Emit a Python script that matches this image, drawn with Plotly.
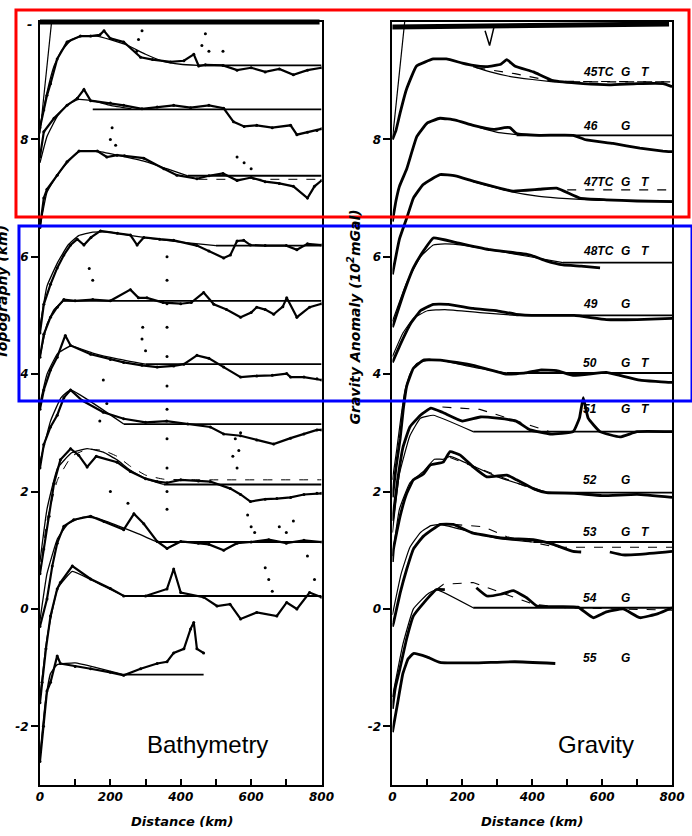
import plotly.graph_objects as go

W, H = 692, 836          # design frame (reference pixels)
FIG_W = 708              # page width so that the captured picture maps back onto 692 px

# ---------------- Bathymetry profiles (left panel) ----------------
b45_obs_x = [0, 11, 20, 30, 49, 77, 115, 144, 170, 182, 200, 238, 286, 320, 371, 409, 437, 451, 470, 520, 560, 600, 640, 680, 720, 760, 800]
b45_obs_y = [8.2, 8.5, 8.75, 8.95, 9.37, 9.66, 9.76, 9.76, 9.78, 9.85, 9.72, 9.66, 9.4, 9.36, 9.32, 9.34, 9.45, 9.25, 9.27, 9.26, 9.18, 9.22, 9.15, 9.2, 9.1, 9.18, 9.22]
b45_mod_x = [0, 20, 40, 60, 90, 120, 160, 200, 250, 300, 350, 400, 450]
b45_mod_y = [8.2, 8.8, 9.25, 9.5, 9.7, 9.76, 9.76, 9.7, 9.6, 9.45, 9.33, 9.28, 9.26]
b45_steep_x = [0, 33]
b45_steep_y = [8.1, 10.0]

b46_obs_x = [0, 11, 40, 77, 106, 125, 144, 200, 238, 290, 333, 380, 428, 480, 522, 550, 580, 616, 660, 712, 730, 760, 787, 800]
b46_obs_y = [7.7, 8.13, 8.36, 8.58, 8.7, 8.85, 8.66, 8.62, 8.58, 8.52, 8.55, 8.58, 8.54, 8.58, 8.53, 8.3, 8.22, 8.24, 8.2, 8.24, 8.08, 8.12, 8.15, 8.18]
b46_mod_x = [0, 20, 50, 80, 110, 150, 200, 260]
b46_mod_y = [7.6, 8.05, 8.4, 8.6, 8.68, 8.66, 8.58, 8.52]

b47_obs_x = [0, 11, 20, 49, 77, 111, 163, 190, 219, 240, 295, 352, 389, 446, 480, 520, 560, 600, 640, 680, 720, 760, 780, 800]
b47_obs_y = [6.5, 7.0, 7.15, 7.39, 7.62, 7.8, 7.8, 7.7, 7.73, 7.72, 7.68, 7.5, 7.39, 7.33, 7.38, 7.42, 7.3, 7.35, 7.28, 7.25, 7.2, 7.0, 7.2, 7.3]
b47_mod_x = [0, 20, 50, 80, 111, 163, 220, 300, 360, 420]
b47_mod_y = [6.5, 7.1, 7.4, 7.62, 7.8, 7.8, 7.73, 7.62, 7.5, 7.38]
b47_dash_x = [450, 800]
b47_dash_y = [7.32, 7.32]

b48_obs_x = [0, 11, 30, 49, 68, 87, 106, 125, 145, 172, 220, 257, 276, 295, 340, 380, 446, 480, 522, 541, 560, 579, 598, 640, 700, 730, 760, 800]
b48_obs_y = [4.7, 5.19, 5.53, 5.81, 6.03, 6.2, 6.3, 6.2, 6.33, 6.44, 6.4, 6.37, 6.2, 6.33, 6.3, 6.28, 6.19, 6.1, 5.98, 6.03, 6.27, 6.28, 6.2, 6.19, 6.19, 6.12, 6.22, 6.2]
b48_mod_x = [0, 20, 50, 80, 110, 150, 200, 260, 330, 400, 500]
b48_mod_y = [4.8, 5.5, 5.9, 6.2, 6.36, 6.42, 6.42, 6.36, 6.3, 6.25, 6.19]

b49_obs_x = [0, 11, 30, 49, 68, 100, 150, 200, 257, 280, 304, 350, 400, 430, 465, 494, 530, 570, 600, 616, 640, 664, 690, 701, 730, 766, 800]
b49_obs_y = [4.29, 4.68, 4.97, 5.14, 5.27, 5.25, 5.27, 5.25, 5.44, 5.3, 5.3, 5.22, 5.2, 5.22, 5.39, 5.19, 5.1, 4.97, 5.05, 5.14, 5.1, 5.02, 5.15, 5.3, 4.97, 5.14, 5.2]
b49_mod_x = [0, 20, 40, 68, 100]
b49_mod_y = [4.3, 4.85, 5.1, 5.25, 5.25]

b50_obs_x = [0, 11, 30, 49, 72, 87, 144, 200, 238, 290, 333, 380, 409, 446, 480, 522, 570, 616, 660, 701, 712, 750, 787, 800]
b50_obs_y = [3.4, 3.73, 4.07, 4.29, 4.66, 4.49, 4.34, 4.25, 4.2, 4.15, 4.12, 4.14, 4.17, 4.32, 4.27, 4.12, 3.95, 3.97, 3.98, 4.01, 3.95, 3.95, 3.92, 3.9]
b50_mod_x = [0, 20, 50, 87, 150, 220, 300]
b50_mod_y = [3.5, 4.0, 4.35, 4.48, 4.36, 4.26, 4.17]

b51_obs_x = [0, 11, 30, 49, 68, 87, 120, 180, 238, 300, 360, 420, 484, 522, 570, 616, 664, 712, 750, 787, 800]
b51_obs_y = [2.4, 2.8, 3.1, 3.3, 3.6, 3.73, 3.55, 3.35, 3.24, 3.18, 3.2, 3.15, 3.1, 2.98, 2.95, 2.88, 2.81, 2.91, 2.98, 3.05, 3.05]
b51_mod_x = [0, 30, 60, 87, 238]
b51_mod_y = [2.5, 3.2, 3.6, 3.73, 3.15]

b52_obs_x = [0, 11, 26, 40, 58, 87, 110, 134, 160, 219, 257, 300, 333, 361, 400, 450, 484, 541, 570, 598, 640, 673, 712, 750, 787, 800]
b52_obs_y = [0.6, 1.02, 1.58, 2.14, 2.54, 2.73, 2.62, 2.42, 2.6, 2.5, 2.34, 2.22, 2.17, 2.15, 2.2, 2.18, 2.17, 2.05, 1.95, 1.83, 1.87, 1.88, 1.9, 1.95, 1.97, 1.97]
b52_mod_x = [0, 20, 50, 90, 134, 180, 219, 257, 300, 352]
b52_mod_y = [0.8, 1.7, 2.4, 2.66, 2.73, 2.67, 2.54, 2.36, 2.22, 2.12]
b52_dash_x = [0, 20, 50, 90, 134, 180, 219, 257, 300, 352, 450, 800]
b52_dash_y = [0.6, 1.5, 2.2, 2.6, 2.72, 2.7, 2.6, 2.43, 2.28, 2.21, 2.2, 2.2]

b53_obs_x = [0, 20, 35, 49, 68, 96, 144, 182, 238, 267, 295, 333, 361, 400, 450, 480, 522, 560, 600, 650, 700, 750, 800]
b53_obs_y = [-0.3, 0.17, 0.73, 1.12, 1.41, 1.52, 1.58, 1.49, 1.35, 1.62, 1.45, 1.15, 1.03, 1.15, 1.12, 1.1, 1.0, 1.12, 1.14, 1.18, 1.12, 1.17, 1.14]
b53_mod_x = [0, 20, 50, 80, 120, 160, 220, 280, 333]
b53_mod_y = [-0.2, 0.6, 1.2, 1.45, 1.56, 1.55, 1.42, 1.28, 1.14]

b54_obs_x = [0, 6, 17, 30, 49, 58, 92, 144, 200, 238, 300, 361, 380, 400, 465, 503, 540, 570, 616, 673, 701, 730, 766, 800]
b54_obs_y = [-1.6, -1.25, -0.68, -0.12, 0.34, 0.45, 0.73, 0.51, 0.35, 0.22, 0.22, 0.34, 0.68, 0.28, 0.2, 0.05, 0.08, -0.17, -0.06, -0.12, 0.11, 0.0, 0.28, 0.2]
b54_mod_x = [0, 20, 50, 92, 144, 238]
b54_mod_y = [-1.5, -0.5, 0.35, 0.64, 0.5, 0.22]

b55_obs_x = [0, 10, 20, 30, 49, 58, 100, 144, 200, 238, 286, 333, 361, 380, 409, 428, 437, 446, 465]
b55_obs_y = [-2.6, -2.0, -1.4, -1.25, -0.8, -0.93, -0.98, -1.02, -1.08, -1.13, -1.02, -0.93, -0.9, -0.75, -0.68, -0.34, -0.23, -0.68, -0.75]
b55_mod_x = [0, 15, 30, 49, 100, 160, 238]
b55_mod_y = [-2.5, -1.6, -1.1, -0.95, -0.92, -1.0, -1.12]

bathy_base_y = [9.26, 8.51, 7.38, 6.19, 5.25, 4.17, 3.15, 2.12, 1.14, 0.22, -1.12]
bathy_base_x0 = [450, 150, 420, 500, 68, 300, 238, 352, 333, 238, 238]
bathy_base_x1 = [800, 800, 800, 800, 800, 800, 800, 800, 800, 800, 465]

# scattered outlier soundings
bathy_dot_x = [361, 361, 361, 361, 361, 361, 361, 361, 361, 361, 361, 560, 565, 570, 590, 600, 610, 640, 650, 660,
               200, 205, 215, 275, 280, 290, 460, 470, 480, 520, 560, 580, 600, 150, 140, 290, 300, 292, 180, 190,
               170, 250, 200, 680, 700, 720, 760, 780, 548, 555]
bathy_dot_y = [1.7, 2.0, 2.4, 2.9, 3.4, 3.8, 4.3, 4.8, 5.2, 5.6, 6.0, 2.4, 2.7, 3.0, 1.6, 1.4, 1.3, 0.7, 0.5, 0.3,
               8.0, 8.2, 7.9, 9.5, 9.7, 9.85, 9.6, 9.8, 9.5, 9.5, 7.7, 7.6, 7.5, 5.6, 5.8, 4.6, 4.4, 4.8, 3.9, 3.5,
               3.2, 1.8, 2.0, 1.4, 1.3, 1.5, 0.9, 0.5, 2.6, 2.9]

# ---------------- Gravity profiles (right panel) ----------------
g45_obs_x = [0, 10, 22, 40, 69, 117, 154, 200, 231, 270, 310, 327, 350, 403, 460, 546, 620, 700, 774, 800]
g45_obs_y = [8.0, 8.15, 8.45, 8.85, 9.25, 9.37, 9.37, 9.3, 9.26, 9.24, 9.28, 9.36, 9.25, 9.15, 9.0, 8.95, 8.93, 8.95, 8.95, 8.9]
g45_mod_x = [231, 280, 330, 400, 460]
g45_mod_y = [9.24, 9.15, 9.08, 9.02, 8.98]
g45_dash_x = [240, 350, 460, 800]
g45_dash_y = [9.22, 9.12, 8.99, 8.98]
g45_steep_x = [0, 35]
g45_steep_y = [8.0, 10.0]
g45_mark_x = [265, 278, 290]
g45_mark_y = [9.85, 9.6, 9.9]

g46_obs_x = [0, 10, 20, 41, 70, 100, 136, 180, 231, 290, 320, 336, 355, 420, 517, 555, 631, 708, 774, 800]
g46_obs_y = [6.6, 6.95, 7.2, 7.5, 8.05, 8.28, 8.36, 8.33, 8.24, 8.17, 8.2, 8.2, 8.1, 8.07, 8.07, 7.99, 7.93, 7.85, 7.8, 7.79]
g46_mod_x = [250, 300, 355]
g46_mod_y = [8.2, 8.12, 8.08]

g47_obs_x = [0, 20, 41, 60, 88, 136, 180, 231, 300, 345, 420, 470, 536, 612, 700, 800]
g47_obs_y = [5.7, 6.3, 6.66, 7.0, 7.23, 7.4, 7.38, 7.29, 7.18, 7.12, 7.15, 7.17, 7.0, 6.97, 6.95, 6.94]
g47_mod_x = [231, 330, 420, 500, 600, 800]
g47_mod_y = [7.28, 7.12, 7.03, 6.99, 6.96, 6.95]

g48_obs_x = [0, 3, 31, 60, 89, 117, 183, 279, 394, 440, 488, 540, 594]
g48_obs_y = [4.8, 4.85, 5.36, 5.81, 6.1, 6.32, 6.24, 6.12, 6.03, 5.93, 5.86, 5.84, 5.81]
g48_mod_x = [0, 40, 80, 117, 150, 200, 300, 394, 488]
g48_mod_y = [4.9, 5.55, 6.0, 6.2, 6.22, 6.2, 6.1, 6.0, 5.9]

g49_obs_x = [0, 22, 51, 80, 117, 160, 231, 300, 354, 420, 520, 612, 700, 800]
g49_obs_y = [4.2, 4.5, 4.85, 5.08, 5.19, 5.19, 5.12, 5.08, 5.02, 5.0, 5.0, 4.93, 4.93, 4.95]
g49_mod_x = [0, 30, 60, 100, 150, 250, 354]
g49_mod_y = [4.3, 4.7, 4.95, 5.08, 5.1, 5.05, 5.0]

g50_obs_x = [0, 10, 22, 31, 41, 60, 89, 137, 231, 327, 380, 422, 470, 517, 612, 650, 708, 794, 800]
g50_obs_y = [1.9, 2.4, 2.9, 3.4, 3.8, 4.1, 4.24, 4.24, 4.15, 4.0, 4.02, 4.07, 4.06, 3.98, 4.03, 3.98, 3.9, 3.86, 3.86]
g50_mod_x = [0, 12, 25, 35, 50, 70, 100, 137, 231, 327]
g50_mod_y = [2.2, 2.7, 3.3, 3.7, 4.0, 4.18, 4.24, 4.24, 4.12, 4.02]

g51_obs_x = [0, 15, 30, 50, 80, 110, 143, 200, 251, 300, 354, 394, 451, 517, 535, 546, 560, 594, 651, 700, 800]
g51_obs_y = [1.5, 2.2, 2.75, 3.1, 3.3, 3.42, 3.35, 3.2, 3.27, 3.25, 3.2, 3.05, 2.98, 3.02, 3.25, 3.6, 3.25, 3.02, 2.93, 3.02, 3.02]
g51_mod_x = [0, 20, 50, 80, 117, 231]
g51_mod_y = [1.3, 2.3, 2.95, 3.25, 3.3, 3.02]
g51_dash_x = [143, 250, 330, 450]
g51_dash_y = [3.44, 3.4, 3.25, 3.02]

g52_obs_x = [0, 3, 22, 41, 60, 89, 108, 145, 165, 194, 231, 270, 327, 355, 403, 441, 520, 600, 700, 800]
g52_obs_y = [0.8, 1.02, 1.58, 1.97, 2.2, 2.3, 2.45, 2.5, 2.68, 2.62, 2.42, 2.25, 2.28, 2.2, 2.05, 1.98, 1.97, 1.93, 1.95, 1.9]
g52_mod_x = [0, 20, 50, 90, 120, 145, 165, 300, 441]
g52_mod_y = [0.9, 1.7, 2.15, 2.35, 2.55, 2.55, 2.6, 2.25, 1.99]
g52_dash_x = [165, 420]
g52_dash_y = [2.58, 2.0]

g53_obs_x = [0, 3, 22, 41, 60, 89, 137, 174, 231, 327, 403, 460, 517, 540]
g53_obs_y = [-0.3, -0.24, 0.27, 0.68, 1.02, 1.24, 1.44, 1.44, 1.29, 1.2, 1.18, 1.1, 0.98, 0.97]
g53_obs2_x = [622, 660, 708, 800]
g53_obs2_y = [0.97, 0.92, 0.93, 0.98]
g53_mod_x = [0, 25, 50, 80, 110, 137, 200, 300, 403]
g53_mod_y = [-0.1, 0.6, 1.05, 1.3, 1.42, 1.44, 1.35, 1.2, 1.14]
g53_dash_x = [174, 260, 327, 470, 800]
g53_dash_y = [1.44, 1.4, 1.23, 1.05, 1.05]

g54_obs_x = [0, 8, 22, 41, 60, 89, 126, 150]
g54_obs_y = [-1.7, -1.35, -1.0, -0.5, -0.12, 0.1, 0.33, 0.33]
g54_obs2_x = [240, 270, 310, 346, 384, 413, 480, 531, 574, 612, 660, 708, 760, 800]
g54_obs2_y = [0.36, 0.22, 0.25, 0.31, 0.19, 0.05, 0.04, 0.03, -0.15, -0.05, 0.0, -0.15, -0.08, 0.02]
g54_mod_x = [0, 30, 60, 100, 126, 231]
g54_mod_y = [-1.5, -0.6, 0.0, 0.25, 0.33, 0.02]
g54_dash_x = [126, 146, 231, 403, 500, 800]
g54_dash_y = [0.33, 0.42, 0.45, 0.08, 0.02, -0.02]

g55_obs_x = [0, 15, 30, 45, 60, 100, 136, 231, 350, 466]
g55_obs_y = [-2.1, -1.6, -1.1, -0.85, -0.76, -0.82, -0.91, -0.92, -0.9, -0.93]

grav_base_y = [8.98, 8.07, 7.14, 5.9, 5.0, 4.02, 3.02, 1.98, 1.14, 0.02]
grav_base_x0 = [460, 355, 500, 488, 354, 327, 231, 441, 403, 231]
grav_base_x1 = [800, 800, 800, 800, 800, 800, 800, 800, 800, 800]
grav_base_dash = [True, False, True, False, False, False, False, False, False, False]

profile_ids = ["45TC", "46", "47TC", "48TC", "49", "50", "51", "52", "53", "54", "55"]
profile_has_T = [True, False, True, True, False, True, True, False, True, False, False]
profile_label_y = [9.15, 8.22, 7.27, 6.10, 5.19, 4.19, 3.41, 2.20, 1.31, 0.19, -0.83]

x_ticks = [0, 200, 400, 600, 800]
x_tick_text = ["0", "200", "400", "600", "800"]
y_ticks = [-2, 0, 2, 4, 6, 8]
y_tick_text = ["-2", "0", "2", "4", "6", "8"]

# ---------------- figure ----------------
fig = go.Figure()


def line(xs, ys, panel, width, dash="solid"):
    fig.add_trace(go.Scatter(
        x=xs, y=ys, mode="lines",
        xaxis="x" if panel == 1 else "x2", yaxis="y" if panel == 1 else "y2",
        line=dict(color="black", width=width, dash=dash, shape="spline", smoothing=0.35),
        hoverinfo="skip", showlegend=False))


def straight(xs, ys, panel, width, dash="solid"):
    fig.add_trace(go.Scatter(
        x=xs, y=ys, mode="lines",
        xaxis="x" if panel == 1 else "x2", yaxis="y" if panel == 1 else "y2",
        line=dict(color="black", width=width, dash=dash),
        hoverinfo="skip", showlegend=False))


# bathymetry
bathy_obs = [(b45_obs_x, b45_obs_y), (b46_obs_x, b46_obs_y), (b47_obs_x, b47_obs_y), (b48_obs_x, b48_obs_y),
             (b49_obs_x, b49_obs_y), (b50_obs_x, b50_obs_y), (b51_obs_x, b51_obs_y), (b52_obs_x, b52_obs_y),
             (b53_obs_x, b53_obs_y), (b54_obs_x, b54_obs_y), (b55_obs_x, b55_obs_y)]
bathy_mod = [(b45_mod_x, b45_mod_y), (b46_mod_x, b46_mod_y), (b47_mod_x, b47_mod_y), (b48_mod_x, b48_mod_y),
             (b49_mod_x, b49_mod_y), (b50_mod_x, b50_mod_y), (b51_mod_x, b51_mod_y), (b52_mod_x, b52_mod_y),
             (b53_mod_x, b53_mod_y), (b54_mod_x, b54_mod_y), (b55_mod_x, b55_mod_y)]
for (mx, my) in bathy_mod:
    line(mx, my, 1, 1.3)
for (ox, oy) in bathy_obs:
    straight(ox, oy, 1, 2.2)
    fig.add_trace(go.Scatter(x=ox, y=oy, mode="markers", xaxis="x", yaxis="y",
                             marker=dict(color="black", size=3), hoverinfo="skip", showlegend=False))
for b, x0, x1 in zip(bathy_base_y, bathy_base_x0, bathy_base_x1):
    straight([x0, x1], [b, b], 1, 1.8)
straight(b45_steep_x, b45_steep_y, 1, 1.2)
straight(b47_dash_x, b47_dash_y, 1, 1.0, "dash")
line(b52_dash_x, b52_dash_y, 1, 1.0, "dash")
fig.add_trace(go.Scatter(x=bathy_dot_x, y=bathy_dot_y, mode="markers", xaxis="x", yaxis="y",
                         marker=dict(color="black", size=3), hoverinfo="skip", showlegend=False))

# gravity
grav_obs = [(g45_obs_x, g45_obs_y), (g46_obs_x, g46_obs_y), (g47_obs_x, g47_obs_y), (g48_obs_x, g48_obs_y),
            (g49_obs_x, g49_obs_y), (g50_obs_x, g50_obs_y), (g51_obs_x, g51_obs_y), (g52_obs_x, g52_obs_y),
            (g53_obs_x, g53_obs_y), (g53_obs2_x, g53_obs2_y), (g54_obs_x, g54_obs_y), (g54_obs2_x, g54_obs2_y),
            (g55_obs_x, g55_obs_y)]
grav_mod = [(g45_mod_x, g45_mod_y), (g46_mod_x, g46_mod_y), (g47_mod_x, g47_mod_y), (g48_mod_x, g48_mod_y),
            (g49_mod_x, g49_mod_y), (g50_mod_x, g50_mod_y), (g51_mod_x, g51_mod_y), (g52_mod_x, g52_mod_y),
            (g53_mod_x, g53_mod_y), (g54_mod_x, g54_mod_y)]
grav_dash = [(g45_dash_x, g45_dash_y), (g51_dash_x, g51_dash_y), (g52_dash_x, g52_dash_y),
             (g53_dash_x, g53_dash_y), (g54_dash_x, g54_dash_y)]
for (mx, my) in grav_mod:
    line(mx, my, 2, 1.2)
for (dx, dy) in grav_dash:
    straight(dx, dy, 2, 1.1, "dash")
for b, x0, x1, d in zip(grav_base_y, grav_base_x0, grav_base_x1, grav_base_dash):
    straight([x0, x1], [b, b], 2, 1.3 if d else 1.8, "dash" if d else "solid")
for (ox, oy) in grav_obs:
    line(ox, oy, 2, 2.8)
straight(g45_steep_x, g45_steep_y, 2, 1.2)
straight(g45_mark_x, g45_mark_y, 2, 1.5)

lab_font = dict(family="Liberation Sans", size=12, color="black", weight="bold", style="italic")
ann = []
for pid, hasT, ly in zip(profile_ids, profile_has_T, profile_label_y):
    ann.append(dict(x=540, y=ly, xref="x2", yref="y2", text=pid, showarrow=False,
                    xanchor="left", yanchor="middle", font=lab_font))
    ann.append(dict(x=668, y=ly, xref="x2", yref="y2", text="G", showarrow=False,
                    xanchor="center", yanchor="middle", font=lab_font))
    if hasT:
        ann.append(dict(x=724, y=ly, xref="x2", yref="y2", text="T", showarrow=False,
                        xanchor="center", yanchor="middle", font=lab_font))

title_font = dict(family="DejaVu Sans", size=13, color="black", weight="bold", style="italic")
rot_font = dict(family="DejaVu Sans", size=14, color="black", weight="bold", style="italic")
big_font = dict(family="Liberation Sans", size=24, color="black")


def paper_text(px, py, text, font, angle=0, xshift=0):
    ann.append(dict(x=px / W, y=1 - py / H, xref="paper", yref="paper", text=text, showarrow=False,
                    xanchor="center", yanchor="middle", textangle=angle, font=font, xshift=xshift))


paper_text(178, 821, "Distance (km)", title_font)
paper_text(529, 821, "Distance (km)", title_font)
paper_text(351, 317, "Gravity Anomaly (10<sup>2</sup>mGal)", rot_font, -90)
paper_text(0, 292, "Topography (km)", rot_font, -90, xshift=-2)
paper_text(204, 744, "Bathymetry", big_font)
paper_text(593, 744, "Gravity", big_font)
paper_text(26, 24, "-", title_font)

tick_font = dict(family="DejaVu Sans", size=12, color="black", weight="bold", style="italic")
ydom = [1 - 785 / H, 1 - 22 / H]
xcommon = dict(range=[0, 800], tickvals=x_ticks, ticktext=x_tick_text, ticks="inside", ticklen=6, tickwidth=1.5,
               tickcolor="black", showline=True, linecolor="black", linewidth=2, mirror=True, showgrid=False,
               zeroline=False, tickfont=tick_font, fixedrange=True,
               minor=dict(dtick=100, tick0=0, ticks="inside", ticklen=6, tickwidth=1.5, tickcolor="black",
                          showgrid=False))
ycommon = dict(range=[-3, 10], tickvals=y_ticks, ticktext=y_tick_text, ticks="outside", ticklen=7, tickwidth=1.5,
               tickcolor="black", showline=True, linecolor="black", linewidth=2, mirror=True, showgrid=False,
               zeroline=False, tickfont=tick_font, domain=ydom, fixedrange=True)

fig.update_layout(
    width=FIG_W, height=H, autosize=False, margin=dict(l=0, r=0, t=0, b=0),
    paper_bgcolor="white", plot_bgcolor="white", showlegend=False,
    xaxis=dict(domain=[36 / W, 318 / W], anchor="y", **xcommon),
    yaxis=dict(anchor="x", **ycommon),
    xaxis2=dict(domain=[389 / W, 669 / W], anchor="y2", **xcommon),
    yaxis2=dict(anchor="x2", **ycommon),
    annotations=ann,
    shapes=[
        dict(type="line", xref="paper", yref="paper", x0=36 / W, x1=316 / W, y0=1 - 22 / H, y1=1 - 22 / H,
             line=dict(color="black", width=5)),
        dict(type="line", xref="paper", yref="paper", x0=389 / W, x1=666 / W, y0=1 - 27 / H, y1=1 - 24 / H,
             line=dict(color="black", width=5)),
        dict(type="rect", xref="paper", yref="paper", x0=12 / W, x1=686 / W, y0=1 - 10 / H, y1=1 - 217 / H,
             line=dict(color="#ff0000", width=3), layer="above"),
        dict(type="rect", xref="paper", yref="paper", x0=15 / W, x1=689 / W, y0=1 - 226 / H, y1=1 - 401 / H,
             line=dict(color="#0000ff", width=3), layer="above"),
    ],
)

fig.write_html("out.html", config={"responsive": False, "displayModeBar": False})
